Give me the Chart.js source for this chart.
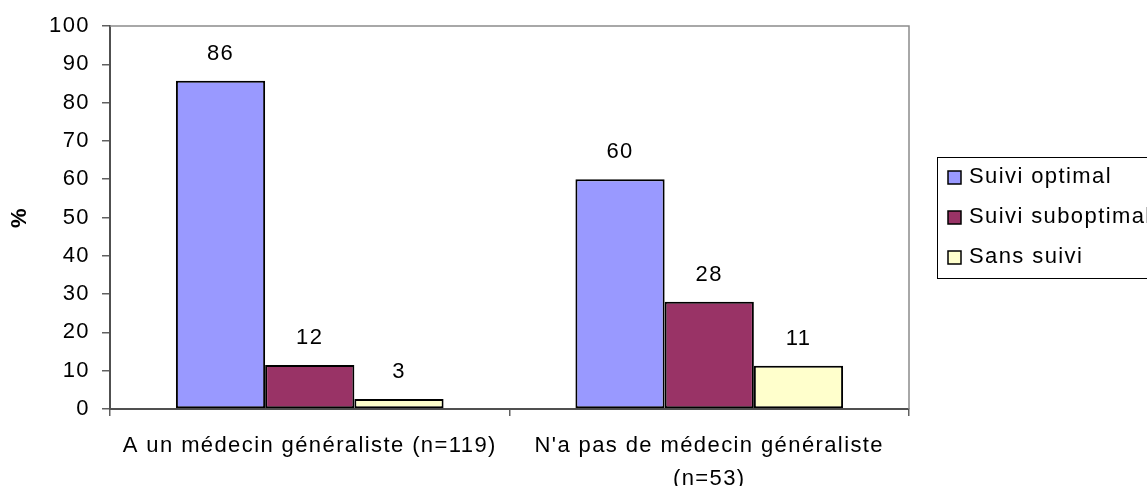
<!DOCTYPE html>
<html>
<head>
<meta charset="utf-8">
<script src="https://cdn.jsdelivr.net/npm/chart.js@4.4.1/dist/chart.umd.min.js"></script>
<style>
  html, body { margin: 0; padding: 0; background: #fff; }
  #wrap { width: 1147px; height: 486px; }
</style>
</head>
<body>
<div id="wrap"><canvas id="suiviChart" width="1147" height="486"></canvas></div>
<script>
// categories (x axis)
const categories = [
    "A un médecin généraliste (n=119)",
    ["N'a pas de médecin généraliste", "(n=53)"]
];

// series (%), and the rounded numbers printed above them
const series = ["Suivi optimal", "Suivi suboptimal", "Sans suivi"];
const suiviOptimal = [85.7, 60];
const suiviSuboptimal = [11.5, 28];
const sansSuivi = [2.6, 11.3];
const labelsOptimal = [86, 60];
const labelsSuboptimal = [12, 28];
const labelsSans = [3, 11];

const yTicks = [0, 10, 20, 30, 40, 50, 60, 70, 80, 90, 100];

const FONT = "'Liberation Sans', Arial, sans-serif";
const SIZE = 22;

// petit espacement des lettres comme dans l'original
const spacing = {
    id: "spacing",
    beforeUpdate(chart) { chart.ctx.letterSpacing = "1.4px"; },
    beforeDraw(chart) { chart.ctx.letterSpacing = "1.4px"; }
};

// cadre gris en haut et à droite
const frame = {
    id: "frame",
    beforeDatasetsDraw(chart) {
        const a = chart.chartArea;
        const ctx = chart.ctx;
        ctx.save();
        ctx.strokeStyle = "#8c8c8c";
        ctx.lineWidth = 1.5;
        ctx.beginPath();
        ctx.moveTo(a.left, a.top);
        ctx.lineTo(a.right, a.top);
        ctx.lineTo(a.right, a.bottom);
        ctx.stroke();
        ctx.restore();
    }
};

// valeurs au-dessus des barres
const valueLabels = {
    id: "valueLabels",
    afterDatasetsDraw(chart) {
        const ctx = chart.ctx;
        ctx.save();
        ctx.font = SIZE + "px " + FONT;
        ctx.fillStyle = "#000";
        ctx.textAlign = "center";
        ctx.textBaseline = "middle";
        chart.data.datasets.forEach((ds, i) => {
            chart.getDatasetMeta(i).data.forEach((bar, j) => {
                ctx.fillText(String(ds.shown[j]), bar.x, bar.y - 27);
            });
        });
        ctx.restore();
    }
};

// légende encadrée à droite
const boxLegend = {
    id: "boxLegend",
    afterDraw(chart) {
        const ctx = chart.ctx;
        ctx.save();
        ctx.strokeStyle = "#000";
        ctx.lineWidth = 1;
        ctx.strokeRect(937.5, 157.5, 230, 121);
        ctx.font = SIZE + "px " + FONT;
        ctx.textBaseline = "middle";
        ctx.textAlign = "left";
        const rows = [177, 217, 257];
        chart.data.datasets.forEach((ds, i) => {
            ctx.fillStyle = ds.backgroundColor;
            ctx.fillRect(948, rows[i] - 6, 13, 13);
            ctx.lineWidth = 1.5;
            ctx.strokeRect(948, rows[i] - 6, 13, 13);
            ctx.fillStyle = "#000";
            ctx.fillText(ds.label, 969, rows[i]);
        });
        ctx.restore();
    }
};

function makeSet(label, data, shown, color) {
    return {
        label: label,
        data: data,
        shown: shown,
        backgroundColor: color,
        borderColor: "#000",
        borderWidth: 2,
        borderSkipped: false,
        categoryPercentage: 0.67,
        barPercentage: 1
    };
}

const canvas = document.getElementById("suiviChart");
const chart = new Chart(canvas.getContext("2d"), {
    type: "bar",
    data: {
        labels: categories,
        datasets: [
            makeSet(series[0], suiviOptimal, labelsOptimal, "#9999ff"),
            makeSet(series[1], suiviSuboptimal, labelsSuboptimal, "#993366"),
            makeSet(series[2], sansSuivi, labelsSans, "#ffffcc")
        ]
    },
    options: {
        responsive: false,
        animation: false,
        layout: { padding: { top: 26, right: 238, left: 0, bottom: 0 } },
        plugins: {
            legend: { display: false },
            tooltip: { enabled: false }
        },
        scales: {
            x: {
                grid: { offset: true, drawOnChartArea: false, tickLength: 7, color: "#606060", lineWidth: 1.5 },
                border: { color: "#505050", width: 2 },
                ticks: {
                    color: "#000",
                    padding: 13,
                    maxRotation: 0,
                    autoSkip: false,
                    font: { family: FONT, size: SIZE, lineHeight: 1.5 }
                },
                afterFit(axis) { axis.height = 77; }
            },
            y: {
                min: 0,
                max: 100,
                afterBuildTicks(axis) { axis.ticks = yTicks.map(v => ({ value: v })); },
                grid: { drawOnChartArea: false, tickLength: 8, color: "#606060", lineWidth: 1.5 },
                border: { color: "#505050", width: 2 },
                ticks: {
                    color: "#000",
                    padding: 12,
                    font: { family: FONT, size: SIZE }
                },
                title: {
                    display: true,
                    text: "%",
                    color: "#000",
                    padding: { top: 7, bottom: 0 },
                    font: { family: FONT, size: SIZE, weight: "bold" }
                },
                afterFit(axis) { axis.width = 110; }
            }
        }
    },
    plugins: [spacing, frame, valueLabels, boxLegend]
});
</script>
</body>
</html>
